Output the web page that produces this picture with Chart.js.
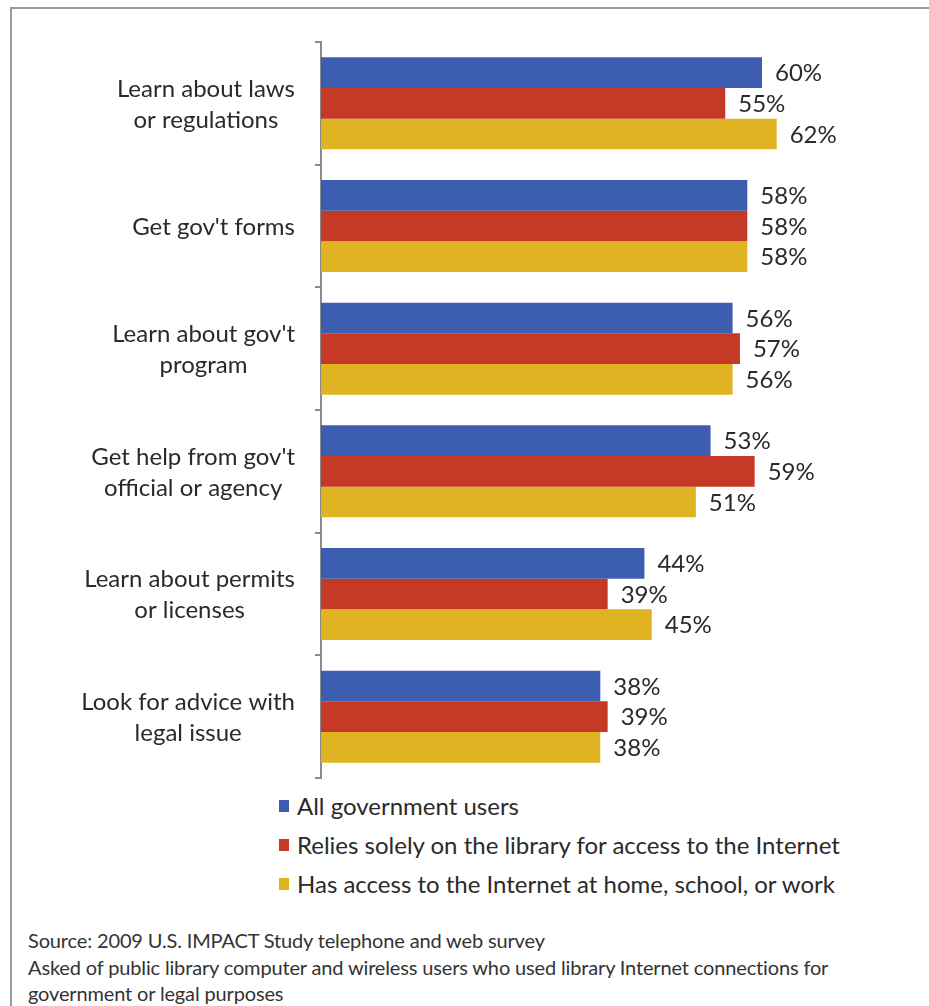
<!DOCTYPE html>
<html>
<head>
<meta charset="utf-8">
<script src="https://cdn.jsdelivr.net/npm/chart.js@4"></script>
<style>
  html, body { margin: 0; padding: 0; background: #fff; }
  body { width: 929px; height: 1006px; position: relative; overflow: hidden; font-family: Lato, "Open Sans", sans-serif; }
  #frame { position: absolute; left: 10px; top: 7px; right: -5px; bottom: -5px; border-top: 2px solid #9a9a9a; border-left: 2px solid #9a9a9a; }
  #c { position: absolute; left: 0; top: 0; }
  .leg { position: absolute; left: 279px; font-size: 24px; color: #2a2a2a; line-height: 28px; height: 28px; white-space: nowrap; }
  .leg i { position: absolute; left: 0; top: 8px; width: 10px; height: 12px; }
  .leg span { position: absolute; left: 18px; top: 0; }
  .note { position: absolute; left: 28px; font-size: 20px; color: #333; white-space: nowrap; letter-spacing: -0.15px; line-height: 24px; }
</style>
</head>
<body>
<div id="frame"></div>
<canvas id="c" width="929" height="790"></canvas>
<div id="legend"></div>
<div class="note" style="top:928px">Source: 2009 U.S. IMPACT Study telephone and web survey</div>
<div class="note" style="top:955px">Asked of public library computer and wireless users who used library Internet connections for</div>
<div class="note" style="top:981px">government or legal purposes</div>
<script>
const categories = [
  ["Learn about laws", "or regulations"],
  ["Get gov't forms"],
  ["Learn about gov't", "program"],
  ["Get help from gov't", "official or agency"],
  ["Learn about permits", "or licenses"],
  ["Look for advice with", "legal issue"]
];
const seriesNames = [
  "All government users",
  "Relies solely on the library for access to the Internet",
  "Has access to the Internet at home, school, or work"
];
const allUsers = [60, 58, 56, 53, 44, 38];
const libraryOnly = [55, 58, 57, 59, 39, 39];
const hasAccess = [62, 58, 56, 51, 45, 38];
const colors = ["#3D5DB0", "#C53A26", "#E0B322"];

const FONT = "Lato, 'Open Sans', sans-serif";

const valueLabels = {
  id: 'valueLabels',
  afterDatasetsDraw(chart) {
    const ctx = chart.ctx;
    ctx.save();
    ctx.font = "24px " + FONT;
    ctx.fillStyle = "#2a2a2a";
    ctx.textAlign = "left";
    ctx.textBaseline = "middle";
    chart.data.datasets.forEach((ds, di) => {
      chart.getDatasetMeta(di).data.forEach((el, i) => {
        ctx.fillText(ds.data[i] + "%", el.x + 13, el.y + 1);
      });
    });
    ctx.restore();
  }
};

const catLabels = {
  id: 'catLabels',
  afterDraw(chart) {
    const ctx = chart.ctx;
    const ys = chart.scales.y;
    ctx.save();
    ctx.font = "24px " + FONT;
    ctx.fillStyle = "#2a2a2a";
    ctx.textAlign = "center";
    ctx.textBaseline = "middle";
    const right = 295, lh = 31;
    categories.forEach((lines, i) => {
      const yc = ys.getPixelForValue(i) + 1;
      const w = Math.max(...lines.map(l => ctx.measureText(l).width));
      const xc = right - w / 2;
      const y0 = yc - (lines.length - 1) * lh / 2;
      lines.forEach((l, k) => ctx.fillText(l, xc, y0 + k * lh));
    });
    ctx.restore();
  }
};

new Chart(document.getElementById('c'), {
  type: 'bar',
  data: {
    labels: categories,
    datasets: [
      { label: seriesNames[0], data: allUsers, backgroundColor: colors[0] },
      { label: seriesNames[1], data: libraryOnly, backgroundColor: colors[1] },
      { label: seriesNames[2], data: hasAccess, backgroundColor: colors[2] }
    ]
  },
  options: {
    indexAxis: 'y',
    responsive: false,
    devicePixelRatio: 1,
    animation: false,
    categoryPercentage: 0.75,
    barPercentage: 1.0,
    layout: { padding: { left: 0, right: 20, top: 42, bottom: 12 } },
    plugins: { legend: { display: false }, tooltip: { enabled: false } },
    scales: {
      x: { display: false, min: 0, max: 80 },
      y: {
        afterFit(scale) { scale.width = 321; },
        ticks: { display: false },
        grid: { display: true, drawOnChartArea: false, drawTicks: true, tickLength: 6, offset: true, color: "#8a8a8a", lineWidth: 2 },
        border: { display: true, color: "#8a8a8a", width: 2 }
      }
    }
  },
  plugins: [valueLabels, catLabels]
});

const legend = document.getElementById('legend');
const legendTops = [792, 831, 870];
seriesNames.forEach((n, i) => {
  const d = document.createElement('div');
  d.className = 'leg';
  d.style.top = legendTops[i] + 'px';
  d.innerHTML = '<i style="background:' + colors[i] + '"></i><span></span>';
  d.querySelector('span').textContent = n;
  legend.appendChild(d);
});
</script>
</body>
</html>
